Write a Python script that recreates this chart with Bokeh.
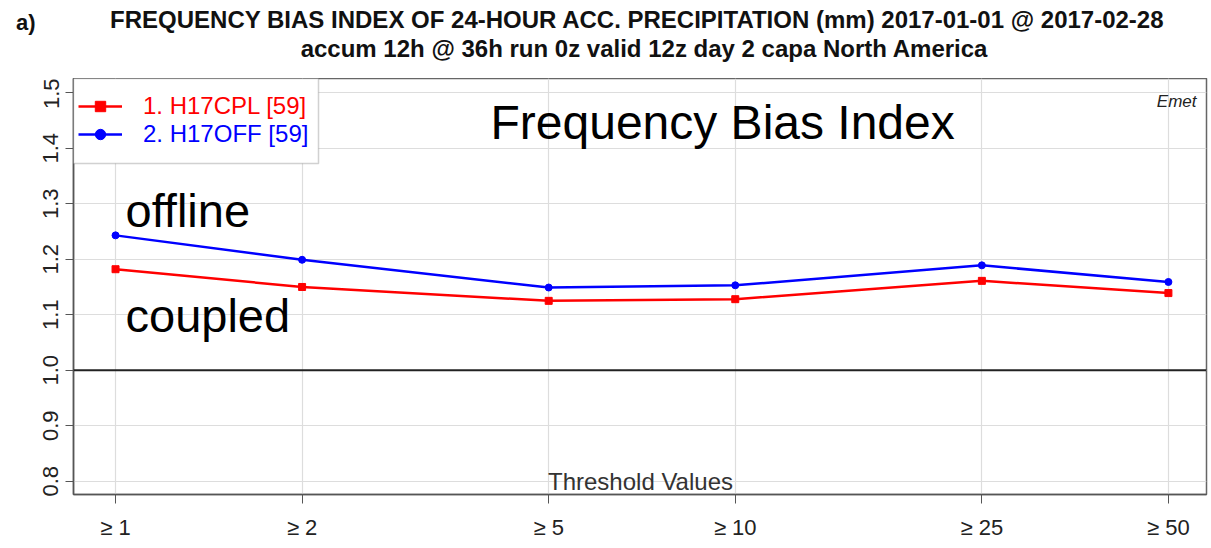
from bokeh.plotting import figure
from bokeh.layouts import column
from bokeh.models import (Range1d, FixedTicker, Label, Span, BoxAnnotation,
                          Legend, LegendItem)
from bokeh.embed import file_html
from bokeh.resources import INLINE

# Precipitation thresholds (mm) and the frequency bias index of each run
thresholds = [1, 2, 5, 10, 25, 50]
tick_labels = ["≥ 1", "≥ 2", "≥ 5", "≥ 10", "≥ 25", "≥ 50"]
h17cpl = [1.182, 1.150, 1.125, 1.128, 1.161, 1.139]
h17off = [1.243, 1.199, 1.149, 1.153, 1.189, 1.159]
y_ticks = [0.8, 0.9, 1.0, 1.1, 1.2, 1.3, 1.4, 1.5]
y_tick_labels = ["0.8", "0.9", "1.0", "1.1", "1.2", "1.3", "1.4", "1.5"]
series_names = ["1. H17CPL [59]", "2. H17OFF [59]"]
series_colors = ["#ff0000", "#0000ff"]

panel_tag = "a)"
title_1 = "FREQUENCY BIAS INDEX OF 24-HOUR ACC. PRECIPITATION (mm) 2017-01-01 @ 2017-02-28"
title_2 = "accum 12h @ 36h run 0z valid 12z day 2 capa North America"

FONT = "Liberation Sans"
HEADER_H = 78
FRAME_L, FRAME_R = 73, 5
# alphabetic baselines of Label text come out lower by about this share of the font size
BASELINE_SHIFT = 0.38


def add_label(fig, text, x, y, size, align="left", style="normal", color="black"):
    fig.add_layout(Label(x=x, y=y + BASELINE_SHIFT * size, x_units="screen", y_units="screen",
                         text=text, text_font=FONT, text_font_size=f"{size}px",
                         text_font_style=style, text_color=color,
                         text_align=align, text_baseline="alphabetic"))


# ---- header strip: panel tag (as a bare axis label) and two title lines ----
head = figure(width=1211, height=HEADER_H, x_range=Range1d(0, 1211 - FRAME_L - FRAME_R),
              y_range=Range1d(0, HEADER_H), output_backend="svg",
              toolbar_location=None, x_axis_location=None, y_axis_location="left",
              min_border_left=FRAME_L, min_border_right=FRAME_R,
              min_border_top=0, min_border_bottom=0)
head.outline_line_color = None
head.grid.visible = False
head.background_fill_color = "white"
head.border_fill_color = "white"
tag_y = HEADER_H - 22
head.yaxis.ticker = FixedTicker(ticks=[tag_y], minor_ticks=[])
head.yaxis.major_label_overrides = {tag_y: panel_tag}
head.yaxis.axis_line_color = None
head.yaxis.major_tick_line_color = None
head.yaxis.minor_tick_line_color = None
head.yaxis.major_tick_in = 0
head.yaxis.major_tick_out = 0
head.yaxis.major_label_standoff = 38
head.yaxis.major_label_text_font = FONT
head.yaxis.major_label_text_font_size = "22px"
head.yaxis.major_label_text_font_style = "bold"
head.yaxis.major_label_text_color = "#111111"


def head_label(text, cx, cy, size, **kw):
    add_label(head, text, cx - FRAME_L, HEADER_H - cy, size, **kw)


head_label(title_1, 637, 28, 24, align="center", style="bold", color="#111111")
head_label(title_2, 644, 57, 24, align="center", style="bold", color="#111111")

# ---- main chart ----
p = figure(width=1211, height=548 - HEADER_H, x_axis_type="log",
           x_range=Range1d(0.8554, 57.6), y_range=Range1d(0.776, 1.5257),
           output_backend="svg", toolbar_location=None,
           min_border_left=FRAME_L, min_border_right=FRAME_R,
           min_border_top=0, min_border_bottom=54)

p.background_fill_color = "white"
p.border_fill_color = "white"
p.outline_line_color = "#666666"
p.outline_line_width = 1.5

xt = FixedTicker(ticks=thresholds, minor_ticks=[])
yt = FixedTicker(ticks=y_ticks, minor_ticks=[])
p.xaxis.ticker = xt
p.yaxis.ticker = yt
p.xaxis.major_label_overrides = dict(zip(thresholds, tick_labels))
p.yaxis.major_label_overrides = dict(zip(y_ticks, y_tick_labels))
for ax in (p.xaxis, p.yaxis):
    ax.axis_line_color = "#555555"
    ax.axis_line_width = 1.5
    ax.major_tick_line_color = "#555555"
    ax.major_tick_line_width = 1
    ax.major_tick_in = 0
    ax.minor_tick_line_color = None
    ax.major_label_text_font = FONT
    ax.major_label_text_font_size = "22px"
    ax.major_label_text_color = "#222222"
p.xaxis.major_tick_out = 9
p.xaxis.major_label_standoff = 11
p.yaxis.major_tick_out = 8
p.yaxis.major_label_standoff = 7
p.yaxis.major_label_orientation = "vertical"

p.xgrid.ticker = xt
p.ygrid.ticker = yt
p.grid.grid_line_color = "#dddddd"
p.grid.grid_line_width = 1.2

# reference line for an unbiased forecast
p.add_layout(Span(location=1.0, dimension="width", line_color="#222222",
                  line_width=2))

r_cpl_line = p.line(thresholds, h17cpl, line_color=series_colors[0], line_width=2.5)
r_cpl_pts = p.scatter(thresholds, h17cpl, marker="square", size=7,
                      fill_color=series_colors[0], line_color=series_colors[0])
r_off_line = p.line(thresholds, h17off, line_color=series_colors[1], line_width=2.5)
r_off_pts = p.scatter(thresholds, h17off, marker="circle", size=7,
                      fill_color=series_colors[1], line_color=series_colors[1])

# legend box with one entry per run, each in its own colour
p.add_layout(BoxAnnotation(left=0, right=245, bottom=331, top=416,
                           left_units="screen", right_units="screen",
                           bottom_units="screen", top_units="screen",
                           fill_color="white", fill_alpha=1.0,
                           line_color="#666666", line_width=1.5))

entries = [([r_cpl_line, r_cpl_pts], 374), ([r_off_line, r_off_pts], 346)]
for (rends, ypos), name, color in zip(entries, series_names, series_colors):
    lg = Legend(items=[LegendItem(label=name, renderers=rends)],
                location=(5, ypos), orientation="vertical",
                glyph_width=44, glyph_height=26, label_height=26,
                label_standoff=21, padding=0, margin=0, spacing=0,
                border_line_color=None, background_fill_alpha=0,
                label_text_font=FONT, label_text_font_size="24px",
                label_text_color=color)
    p.add_layout(lg)

# main frame bottom sits at page y = 494
FRAME_B = 494


def frame_label(text, cx, cy, size, **kw):
    add_label(p, text, cx - FRAME_L, FRAME_B - cy, size, **kw)


frame_label("Frequency Bias Index", 490, 140, 48)
frame_label("offline", 125, 228, 47)
frame_label("coupled", 125, 333, 47)
frame_label("Threshold Values", 640, 490, 24, align="center", color="#333333")
frame_label("Emet", 1196, 107, 17, align="right", style="italic", color="#222222")

layout = column(head, p, spacing=0)
open("out.html", "w").write(file_html(layout, INLINE))
